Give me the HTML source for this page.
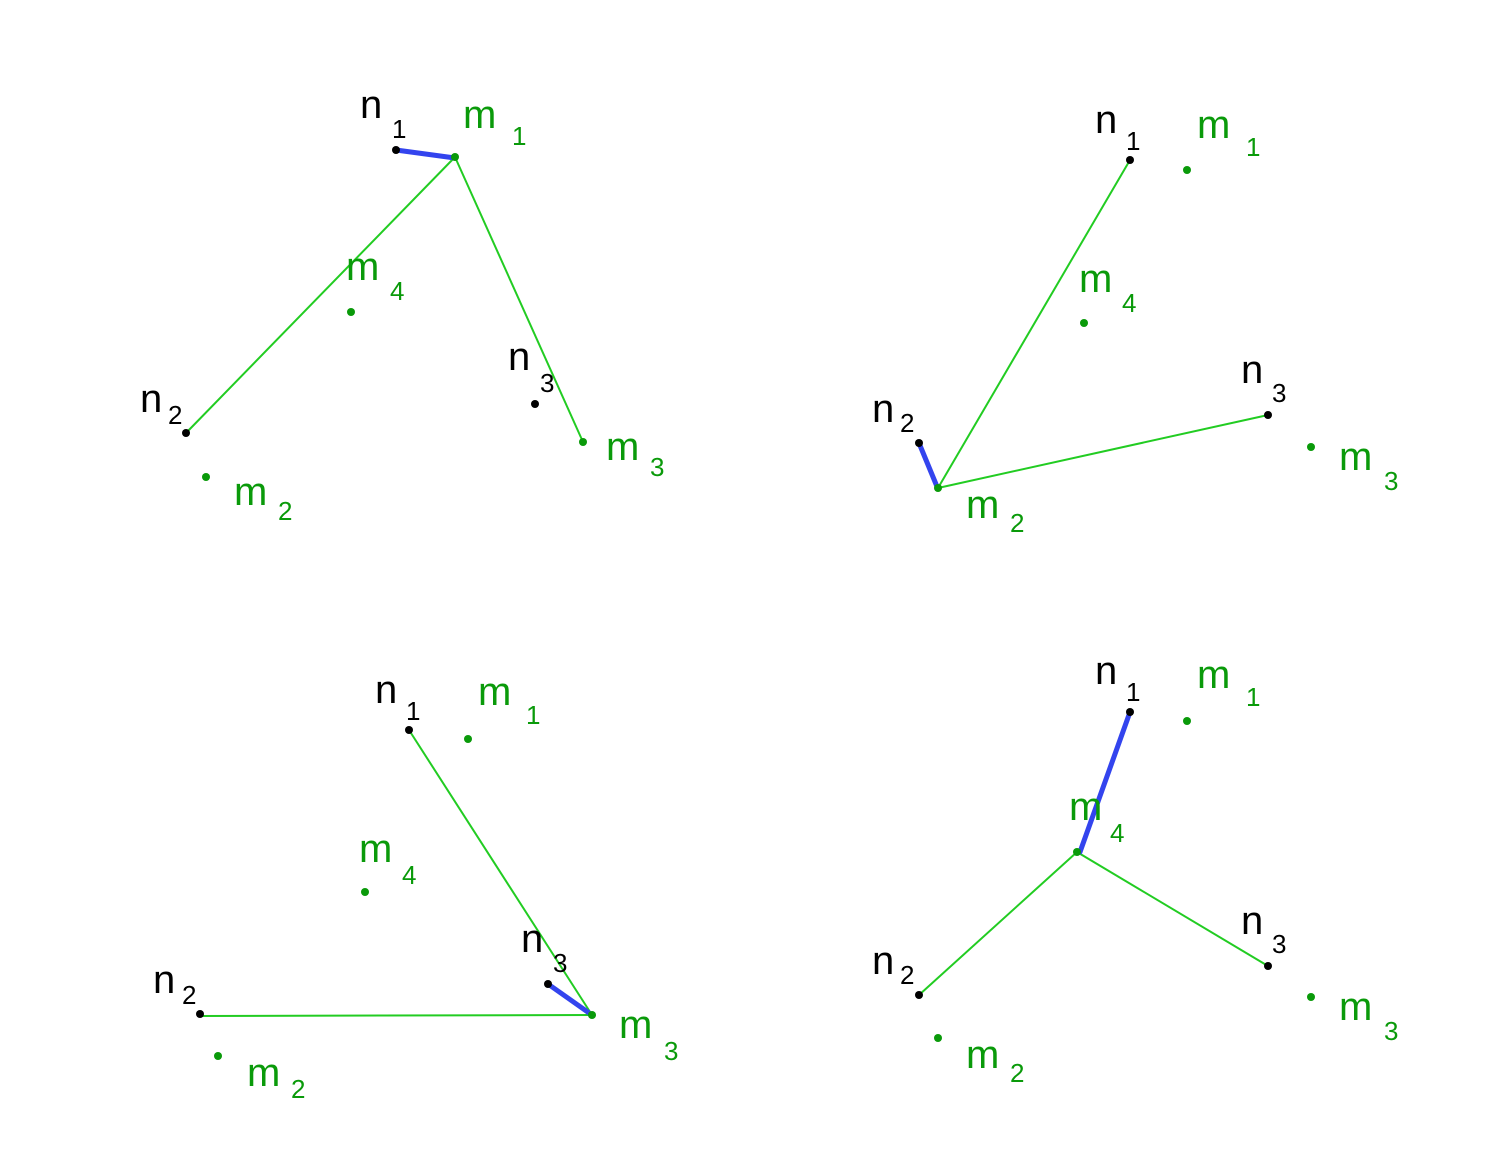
<!DOCTYPE html>
<html><head><meta charset="utf-8"><style>
html,body{margin:0;padding:0;background:#fff;}
svg{display:block}
text{font-family:"Liberation Sans",sans-serif;}
.n{fill:#000;font-size:40px}
.m{fill:#0a9a0a;font-size:40px}
.sn{fill:#000;font-size:26px}
.sm{fill:#0a9a0a;font-size:26px}
.g{stroke:#22cc22;stroke-width:2;fill:none}
.b{stroke:#3344ee;stroke-width:5;stroke-linecap:round;fill:none}
</style></head><body>
<svg width="1501" height="1171" viewBox="0 0 1501 1171" xmlns="http://www.w3.org/2000/svg">
<!-- Panel 1 -->
<line class="g" x1="455" y1="157" x2="186" y2="433"/>
<line class="g" x1="455" y1="157" x2="583" y2="442"/>
<line class="b" x1="396" y1="150" x2="455" y2="158"/>
<g fill="#000"><circle cx="396" cy="150" r="4"/><circle cx="535" cy="404" r="4"/><circle cx="186" cy="433" r="4"/></g>
<g fill="#0a9a0a"><circle cx="455" cy="157" r="4"/><circle cx="351" cy="312" r="4"/><circle cx="206" cy="477" r="4"/><circle cx="583" cy="442" r="4"/></g>
<text class="n" x="360" y="118">n</text><text class="sn" x="392" y="138">1</text>
<text class="m" x="463" y="128">m</text><text class="sm" x="512" y="145">1</text>
<text class="m" x="346" y="280">m</text><text class="sm" x="390" y="300">4</text>
<text class="n" x="508" y="370">n</text><text class="sn" x="540" y="392">3</text>
<text class="n" x="140" y="412">n</text><text class="sn" x="168" y="424">2</text>
<text class="m" x="234" y="505">m</text><text class="sm" x="278" y="520">2</text>
<text class="m" x="606" y="460">m</text><text class="sm" x="650" y="476">3</text>

<!-- Panel 2 -->
<line class="g" x1="938" y1="488" x2="1130" y2="160"/>
<line class="g" x1="938" y1="488" x2="1268" y2="415"/>
<line class="b" x1="919" y1="443" x2="938" y2="489"/>
<g fill="#000"><circle cx="1130" cy="160" r="4"/><circle cx="1268" cy="415" r="4"/><circle cx="919" cy="443" r="4"/></g>
<g fill="#0a9a0a"><circle cx="1187" cy="170" r="4"/><circle cx="1084" cy="323" r="4"/><circle cx="1311" cy="447" r="4"/><circle cx="938" cy="488" r="4"/></g>
<text class="n" x="1095" y="133">n</text><text class="sn" x="1126" y="150">1</text>
<text class="m" x="1197" y="138">m</text><text class="sm" x="1246" y="156">1</text>
<text class="m" x="1079" y="292">m</text><text class="sm" x="1122" y="312">4</text>
<text class="n" x="1241" y="383">n</text><text class="sn" x="1272" y="402">3</text>
<text class="n" x="872" y="422">n</text><text class="sn" x="900" y="432">2</text>
<text class="m" x="966" y="518">m</text><text class="sm" x="1010" y="532">2</text>
<text class="m" x="1339" y="470">m</text><text class="sm" x="1384" y="490">3</text>

<!-- Panel 3 -->
<line class="g" x1="592" y1="1015" x2="409" y2="730"/>
<line class="g" x1="592" y1="1015" x2="200" y2="1016"/>
<line class="b" x1="548" y1="984" x2="592" y2="1015"/>
<g fill="#000"><circle cx="409" cy="730" r="4"/><circle cx="548" cy="984" r="4"/><circle cx="200" cy="1014" r="4"/></g>
<g fill="#0a9a0a"><circle cx="468" cy="739" r="4"/><circle cx="365" cy="892" r="4"/><circle cx="218" cy="1056" r="4"/><circle cx="592" cy="1015" r="4"/></g>
<text class="n" x="375" y="703">n</text><text class="sn" x="406" y="720">1</text>
<text class="m" x="478" y="705">m</text><text class="sm" x="526" y="724">1</text>
<text class="m" x="359" y="862">m</text><text class="sm" x="402" y="884">4</text>
<text class="n" x="521" y="952">n</text><text class="sn" x="553" y="972">3</text>
<text class="n" x="153" y="993">n</text><text class="sn" x="182" y="1004">2</text>
<text class="m" x="247" y="1086">m</text><text class="sm" x="291" y="1098">2</text>
<text class="m" x="619" y="1038">m</text><text class="sm" x="664" y="1060">3</text>

<!-- Panel 4 -->
<line class="g" x1="1077" y1="852" x2="919" y2="995"/>
<line class="g" x1="1077" y1="852" x2="1268" y2="966"/>
<line class="b" x1="1130" y1="712" x2="1080" y2="852"/>
<g fill="#000"><circle cx="1130" cy="712" r="4"/><circle cx="1268" cy="966" r="4"/><circle cx="919" cy="995" r="4"/></g>
<g fill="#0a9a0a"><circle cx="1187" cy="721" r="4"/><circle cx="1077" cy="852" r="4"/><circle cx="1311" cy="997" r="4"/><circle cx="938" cy="1038" r="4"/></g>
<text class="n" x="1095" y="684">n</text><text class="sn" x="1126" y="701">1</text>
<text class="m" x="1197" y="688">m</text><text class="sm" x="1246" y="706">1</text>
<text class="m" x="1069" y="820">m</text><text class="sm" x="1110" y="842">4</text>
<text class="n" x="1241" y="934">n</text><text class="sn" x="1272" y="953">3</text>
<text class="n" x="872" y="974">n</text><text class="sn" x="900" y="984">2</text>
<text class="m" x="966" y="1068">m</text><text class="sm" x="1010" y="1082">2</text>
<text class="m" x="1339" y="1020">m</text><text class="sm" x="1384" y="1040">3</text>
</svg>
</body></html>
